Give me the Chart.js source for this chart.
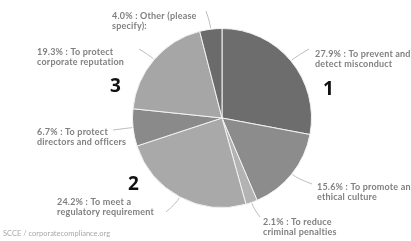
<!DOCTYPE html>
<html>
<head>
<meta charset="utf-8">
<script src="https://cdn.jsdelivr.net/npm/chart.js@4.4.1/dist/chart.umd.min.js"></script>
<style>
html,body{margin:0;padding:0;background:#fff;}
#wrap{position:relative;width:411px;height:241px;}
</style>
</head>
<body>
<div id="wrap"><canvas id="c" width="411" height="241"></canvas></div>
<script>
// ---- data ----
const categories = [
  ["To prevent and", "detect misconduct"],
  ["To promote an", "ethical culture"],
  ["To reduce", "criminal penalties"],
  ["To meet a", "regulatory requirement"],
  ["To protect", "directors and officers"],
  ["To protect", "corporate reputation"],
  ["Other (please", "specify):"]
];
const values = [27.9, 15.6, 2.1, 24.2, 6.7, 19.3, 4.0];
const callouts = ["1", "2", "3"];
const sourceText = "SCCE / corporatecompliance.org";

// ---- styles / positions ----
const colors = ["#6d6d6d", "#8c8c8c", "#b3b3b3", "#a9a9a9", "#8a8a8a", "#a6a6a6", "#6b6b6b"];
// label text anchor (left x, first line center y) and leader end point
const labelPos = [
  {x: 315, y: 54, ex: 309, ey: 49},
  {x: 317, y: 187, ex: 312, ey: 184},
  {x: 263, y: 222, ex: 260, ey: 217},
  {x: 57, y: 202, ex: 166, ey: 212},
  {x: 37, y: 132, ex: 113, ey: 130},
  {x: 37, y: 52, ex: 139, ey: 49},
  {x: 112, y: 16, ex: 206, ey: 11}
];
const calloutPos = [{x: 323, y: 90}, {x: 128, y: 185}, {x: 110, y: 87}];

const labelPlugin = {
  id: 'labels',
  afterDraw(chart) {
    const ctx = chart.ctx;
    const meta = chart.getDatasetMeta(0);
    ctx.save();
    meta.data.forEach((arc, i) => {
      const p = arc.getProps(['x', 'y', 'startAngle', 'endAngle', 'outerRadius'], true);
      const mid = (p.startAngle + p.endAngle) / 2;
      const r0 = p.outerRadius + 1, r1 = p.outerRadius + 7;
      const x0 = p.x + Math.cos(mid) * r0, y0 = p.y + Math.sin(mid) * r0;
      const x1 = p.x + Math.cos(mid) * r1, y1 = p.y + Math.sin(mid) * r1;
      const lp = labelPos[i];
      ctx.strokeStyle = '#bdbdbd';
      ctx.lineWidth = 1;
      ctx.beginPath();
      ctx.moveTo(x0, y0);
      ctx.quadraticCurveTo(x1, y1, lp.ex, lp.ey);
      ctx.stroke();
      // text
      ctx.fillStyle = '#808080';
      ctx.font = 'bold 9px Lato, "Open Sans", sans-serif';
      ctx.textAlign = 'left';
      ctx.textBaseline = 'middle';
      if ('letterSpacing' in ctx) ctx.letterSpacing = '0.2px';
      const lines = categories[i];
      const first = values[i].toFixed(1) + '% : ' + lines[0];
      ctx.fillText(first, lp.x, lp.y);
      for (let k = 1; k < lines.length; k++) {
        ctx.fillText(lines[k], lp.x, lp.y + 10.5 * k);
      }
      if ('letterSpacing' in ctx) ctx.letterSpacing = '0px';
    });
    // callout numbers
    ctx.fillStyle = '#111';
    ctx.font = 'bold 19px "Open Sans", Lato, sans-serif';
    ctx.textBaseline = 'middle';
    callouts.forEach((t, i) => ctx.fillText(t, calloutPos[i].x, calloutPos[i].y));
    // source
    ctx.fillStyle = '#a8a8a8';
    ctx.font = '7.5px Lato, "Open Sans", sans-serif';
    ctx.fillText(sourceText, 3, 234);
    ctx.restore();
  }
};

new Chart(document.getElementById('c'), {
  type: 'pie',
  data: {
    labels: categories.map(c => c.join(' ')),
    datasets: [{
      data: values,
      backgroundColor: colors,
      borderColor: '#f2f2f2',
      borderWidth: 1
    }]
  },
  options: {
    responsive: false,
    animation: false,
    layout: {padding: {left: 132, right: 99, top: 28, bottom: 33}},
    plugins: {legend: {display: false}, tooltip: {enabled: false}}
  },
  plugins: [labelPlugin]
});
</script>
</body>
</html>
